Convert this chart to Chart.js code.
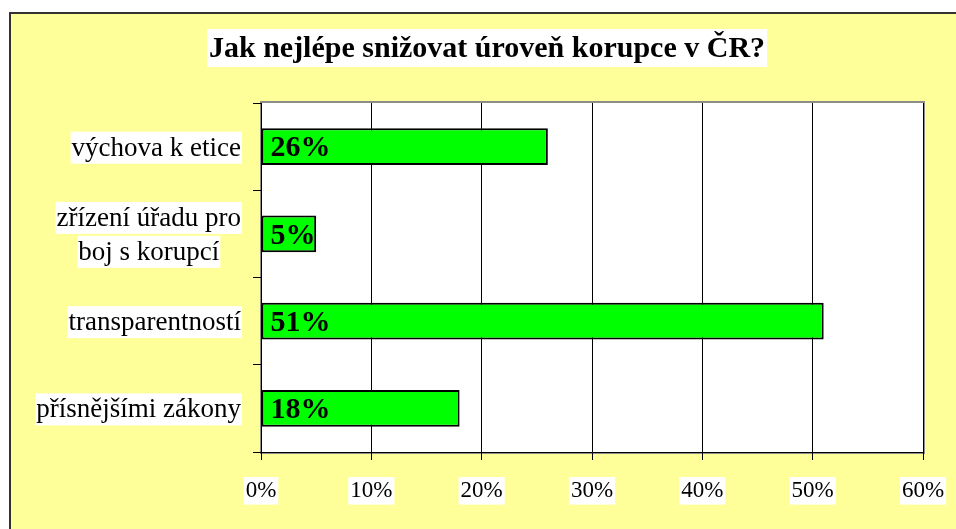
<!DOCTYPE html>
<html>
<head>
<meta charset="utf-8">
<script src="https://cdn.jsdelivr.net/npm/chart.js@4/dist/chart.umd.min.js"></script>
<style>
  html, body { margin: 0; padding: 0; background: #fff; }
  #wrap { width: 956px; height: 529px; }
</style>
</head>
<body>
<div id="wrap"><canvas id="chart" width="956" height="529"></canvas></div>
<script>
const chartTitle = 'Jak nejlépe snižovat úroveň korupce v ČR?';
const categories = [
    ['výchova k etice'],
    ['zřízení úřadu pro', 'boj s korupcí'],
    ['transparentností'],
    ['přísnějšími zákony']
];
const shares = [26, 5, 51, 18];
const xMin = 0;
const xMax = 60;
const xStep = 10;

const serif = '"Liberation Serif", "Times New Roman", serif';

// yellow frame behind everything, white plot area
const framePlugin = {
    id: 'frame',
    beforeDraw(chart) {
        const ctx = chart.ctx;
        const a = chart.chartArea;
        ctx.save();
        ctx.fillStyle = '#fff';
        ctx.fillRect(0, 0, chart.width, chart.height);
        ctx.fillStyle = '#FFFF99';
        ctx.fillRect(9, 12, chart.width - 9, chart.height - 12);
        ctx.strokeStyle = '#333';
        ctx.lineWidth = 2;
        ctx.beginPath();
        ctx.moveTo(10, chart.height);
        ctx.lineTo(10, 13);
        ctx.lineTo(chart.width, 13);
        ctx.stroke();
        ctx.fillStyle = '#fff';
        ctx.fillRect(a.left, a.top, a.right - a.left, a.bottom - a.top);
        ctx.strokeStyle = '#8c8c8c';
        ctx.lineWidth = 2;
        ctx.strokeRect(a.left, a.top - 1, a.right - a.left + 1, a.bottom - a.top + 2);
        ctx.restore();
    }
};

// title with white box
const titlePlugin = {
    id: 'boxTitle',
    afterDraw(chart) {
        const ctx = chart.ctx;
        ctx.save();
        ctx.font = 'bold 30px ' + serif;
        const w = ctx.measureText(chartTitle).width;
        const cx = 487, cy = 48;
        ctx.fillStyle = '#fff';
        ctx.fillRect(cx - w / 2 - 2, cy - 19, w + 4, 38);
        ctx.fillStyle = '#000';
        ctx.textAlign = 'center';
        ctx.textBaseline = 'middle';
        ctx.fillText(chartTitle, cx, cy + 1);
        ctx.restore();
    }
};

// category labels: block right-aligned, lines centred, white boxes
const catLabelPlugin = {
    id: 'catLabels',
    afterDraw(chart) {
        const ctx = chart.ctx;
        const ys = chart.scales.y;
        ctx.save();
        ctx.font = '27px ' + serif;
        ctx.textAlign = 'center';
        ctx.textBaseline = 'middle';
        chart.data.labels.forEach((lab, i) => {
            const lines = Array.isArray(lab) ? lab : [lab];
            const widths = lines.map(l => ctx.measureText(l).width);
            const maxW = Math.max(...widths);
            const cx = ys.right - 20 - maxW / 2;
            const yc = ys.getPixelForValue(i) + 1;
            lines.forEach((l, j) => {
                const y = yc + (j - (lines.length - 1) / 2) * 34;
                ctx.fillStyle = '#fff';
                ctx.fillRect(cx - widths[j] / 2 - 1, y - 16, widths[j] + 2, 32);
                ctx.fillStyle = '#000';
                ctx.fillText(l, cx, y + 1);
            });
        });
        ctx.restore();
    }
};

// bold value labels inside bars
const valueLabelPlugin = {
    id: 'valueLabels',
    afterDatasetsDraw(chart) {
        const ctx = chart.ctx;
        const meta = chart.getDatasetMeta(0);
        ctx.save();
        ctx.font = 'bold 30px ' + serif;
        ctx.fillStyle = '#000';
        ctx.textAlign = 'left';
        ctx.textBaseline = 'middle';
        meta.data.forEach((bar, i) => {
            ctx.fillText(shares[i] + '%', bar.base + 9, bar.y + 2);
        });
        ctx.restore();
    }
};

const ctx = document.getElementById('chart').getContext('2d');
new Chart(ctx, {
    type: 'bar',
    data: {
        labels: categories,
        datasets: [{
            data: shares,
            backgroundColor: '#00FF00',
            borderColor: '#000',
            borderWidth: 2,
            borderSkipped: false,
            barPercentage: 0.42,
            categoryPercentage: 1
        }]
    },
    options: {
        indexAxis: 'y',
        responsive: false,
        animation: false,
        layout: { padding: { top: 103, right: 33, left: 0, bottom: 0 } },
        plugins: {
            legend: { display: false },
            title: { display: false },
            tooltip: { enabled: false }
        },
        scales: {
            x: {
                min: xMin,
                max: xMax,
                afterFit(scale) {
                    scale.height = 77;
                    scale.paddingLeft = 0;
                    scale.paddingRight = 0;
                },
                border: { color: '#000', width: 1 },
                grid: { color: '#000', lineWidth: 1, drawTicks: true, tickLength: 8 },
                ticks: {
                    stepSize: xStep,
                    color: '#000',
                    padding: 17,
                    maxRotation: 0,
                    font: { family: serif, size: 23 },
                    callback: v => v + '%',
                    showLabelBackdrop: true,
                    backdropColor: '#fff',
                    backdropPadding: { top: 0, bottom: 0, left: 2, right: 2 }
                }
            },
            y: {
                afterFit(scale) { scale.width = 261; },
                border: { color: '#000', width: 1 },
                grid: { drawOnChartArea: false, offset: true, color: '#000', tickLength: 8 },
                ticks: { display: false }
            }
        }
    },
    plugins: [framePlugin, titlePlugin, catLabelPlugin, valueLabelPlugin]
});
</script>
</body>
</html>
